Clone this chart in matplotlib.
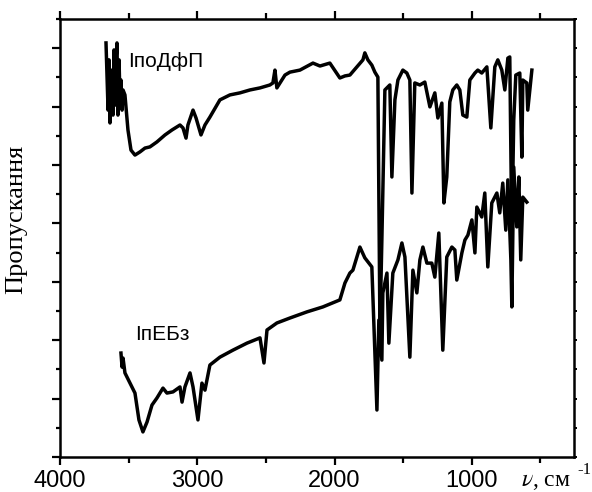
import matplotlib
matplotlib.use('Agg')
import matplotlib.pyplot as plt
from matplotlib.ticker import MultipleLocator, NullFormatter

plt.rcParams['mathtext.fontset'] = 'stix'

# ІпоДфП (upper spectrum): wavenumber, cm-1 / transmittance (arb. units)
wn_top = [3665, 3650, 3643, 3636, 3621, 3614, 3607, 3599, 3592, 3585, 3578, 3570,
          3563, 3556, 3548, 3541, 3527, 3505, 3483, 3454, 3417, 3381, 3345, 3294,
          3235, 3184, 3126, 3104, 3082, 3068, 3031, 3009, 2973, 2944, 2908, 2835,
          2762, 2689, 2616, 2543, 2471, 2449, 2434, 2420, 2361, 2325, 2252, 2157,
          2106, 2034, 1961, 1924, 1888, 1837, 1793, 1779, 1757, 1728, 1706, 1684,
          1669, 1655, 1633, 1597, 1582, 1560, 1538, 1502, 1473, 1451, 1436, 1415,
          1378, 1342, 1305, 1269, 1247, 1218, 1203, 1182, 1160, 1138, 1109, 1087,
          1065, 1036, 1014, 977, 956, 927, 890, 861, 832, 810, 781, 759, 737, 723,
          708, 694, 679, 650, 635, 628, 599, 592, 562]
t_top = [14.18, 11.88, 13.60, 11.44, 13.25, 11.71, 13.94, 12.05, 13.60, 14.18, 11.71, 13.60,
         12.23, 12.91, 11.88, 12.57, 12.40, 11.20, 10.51, 10.34, 10.45, 10.58, 10.62, 10.79,
         11.03, 11.20, 11.37, 11.27, 10.92, 11.37, 11.88, 11.61, 11.03, 11.37, 11.64, 12.23,
         12.40, 12.47, 12.57, 12.64, 12.74, 12.81, 13.25, 12.64, 13.08, 13.18, 13.25, 13.49,
         13.39, 13.49, 12.98, 13.05, 13.08, 13.36, 13.60, 13.84, 13.60, 13.42, 13.18, 13.01,
         4.35, 7.43, 12.57, 12.74, 9.59, 12.23, 12.91, 13.25, 13.15, 12.91, 9.04, 12.81,
         12.74, 12.84, 11.99, 12.47, 11.61, 12.12, 8.70, 9.59, 12.16, 12.57, 12.74, 12.57,
         11.71, 11.64, 12.91, 13.15, 13.25, 13.15, 13.36, 11.27, 13.36, 13.60, 13.25, 12.57, 13.66, 13.70,
         7.60, 11.54, 13.08, 13.15, 10.27, 12.91, 12.81, 11.88, 13.25]

# ІпЕБз (lower spectrum)
wn_bot = [3556, 3548, 3541, 3527, 3490, 3454, 3425, 3396, 3366, 3330, 3294, 3250,
          3221, 3177, 3126, 3111, 3090, 3053, 3031, 2995, 2966, 2944, 2908, 2835,
          2740, 2638, 2543, 2514, 2492, 2420, 2325, 2201, 2085, 1961, 1924, 1888,
          1866, 1815, 1779, 1728, 1691, 1677, 1655, 1648, 1618, 1604, 1575, 1538,
          1509, 1487, 1451, 1429, 1400, 1378, 1356, 1327, 1291, 1269, 1240, 1211,
          1182, 1145, 1123, 1109, 1072, 1050, 1028, 999, 977, 963, 927, 905, 883,
          854, 817, 796, 774, 752, 737, 715, 708, 694, 672, 657, 643, 628, 599]
t_bot = [3.56, 3.08, 3.39, 2.88, 2.53, 2.19, 1.27, 0.86, 1.20, 1.78, 2.02, 2.36,
         2.19, 2.23, 2.40, 1.88, 2.40, 2.88, 2.40, 1.27, 2.53, 2.29, 3.15, 3.42,
         3.66, 3.90, 4.08, 3.22, 4.35, 4.59, 4.76, 4.97, 5.14, 5.38, 5.96, 6.30,
         6.40, 7.19, 6.82, 6.51, 1.61, 4.69, 3.32, 5.62, 6.30, 3.90, 6.30, 6.75,
         7.33, 6.85, 3.42, 6.40, 5.62, 6.75, 7.19, 6.64, 6.64, 6.16, 7.67, 3.66,
         6.85, 7.19, 7.09, 6.06, 6.99, 7.43, 7.60, 8.12, 6.99, 8.56, 8.22, 9.04, 6.51,
         8.70, 9.04, 8.36, 9.38, 7.77, 9.49, 6.75, 5.14, 9.93, 7.88, 9.59, 6.75, 8.90, 8.73]

fig = plt.figure(figsize=(5.92, 4.92), dpi=100)
ax = fig.add_axes([0.1014, 0.0711, 0.8682, 0.8903])

ax.plot(wn_top, t_top, color='black', lw=2.5, solid_joinstyle='round')
ax.plot(wn_bot, t_bot, color='black', lw=2.5, solid_joinstyle='round')

ax.set_xlim(4000, 255)
ax.set_ylim(0, 15)

ax.text(3505, 13.56, 'ІпоДфП', family='Liberation Sans', fontsize=15, ha='left', va='center')
ax.text(3454, 4.18, 'ІпЕБз', family='Liberation Sans', fontsize=15, ha='left', va='center')

for s in ax.spines.values():
    s.set_linewidth(1.8)

ax.xaxis.set_major_locator(MultipleLocator(1000))
ax.xaxis.set_minor_locator(MultipleLocator(500))
ax.yaxis.set_major_locator(MultipleLocator(2))
ax.yaxis.set_minor_locator(MultipleLocator(1))
ax.yaxis.set_major_formatter(NullFormatter())

ax.tick_params(axis='x', which='major', direction='out', length=6, width=1.6, pad=3,
               labelsize=17, top=True)
ax.tick_params(axis='x', which='minor', direction='out', length=4, width=1.6, top=True)
ax.tick_params(axis='y', which='major', direction='out', length=6, width=1.6)
ax.tick_params(axis='y', which='minor', direction='out', length=3, width=1.6)
for lab in ax.get_xticklabels():
    lab.set_family('Liberation Sans')

# short ticks on the right side
ax2 = ax.twinx()
ax2.set_ylim(0, 15)
ax2.yaxis.set_major_locator(MultipleLocator(1))
ax2.yaxis.set_major_formatter(NullFormatter())
ax2.tick_params(axis='y', direction='out', length=2, width=1.4)
for s in ax2.spines.values():
    s.set_visible(False)

fig.text(0.027, 0.555, 'Пропускання', family='Liberation Serif', fontsize=19,
         rotation=90, ha='center', va='center')
fig.text(0.880, 0.012, r'$\nu$, см', family='Liberation Serif', fontsize=17,
         ha='left', va='baseline')
fig.text(0.975, 0.036, '-1', family='Liberation Serif', fontsize=12,
         ha='left', va='baseline')

plt.savefig('out.png', dpi=100)
